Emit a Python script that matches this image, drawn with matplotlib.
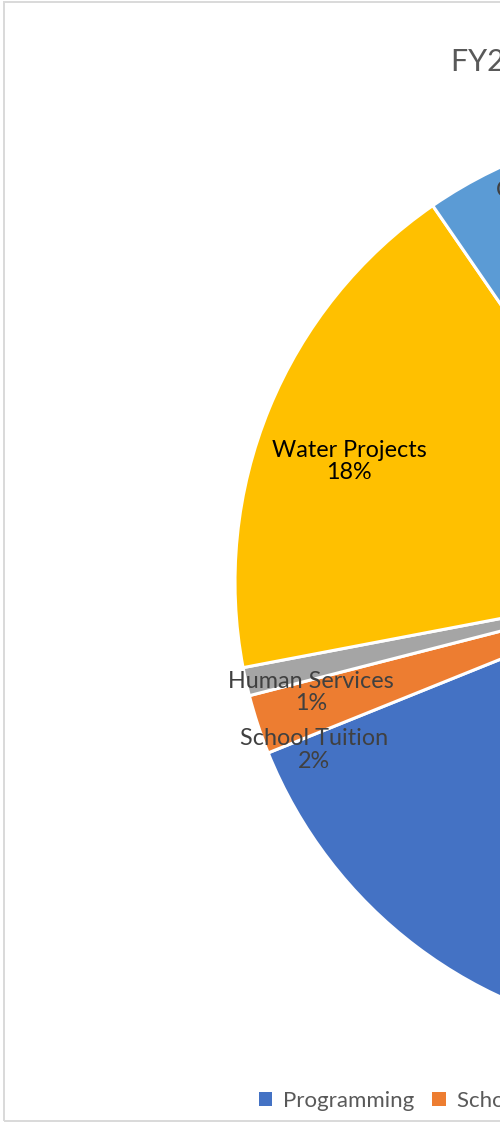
import matplotlib
matplotlib.use("Agg")
import matplotlib.pyplot as plt
from matplotlib.patches import Patch, Rectangle
import numpy as np

plt.rcParams['font.family'] = ['Lato', 'DejaVu Sans']

# ---- data ----
title = "FY2019 Expenditures by Categories"
categories = ["Programming", "School Tuition", "Human Services", "Water Projects", "Operations"]
values = [68.9, 2.1, 1.0, 18.4, 9.6]
pct_labels = ["69%", "2%", "1%", "18%", "10%"]

# ---- style ----
colors = ["#4472C4", "#ED7D31", "#A5A5A5", "#FFC000", "#5B9BD5"]
label_colors = ["#404040", "#404040", "#404040", "#000000", "#404040"]
label_radius = [0.55, 0.905, 0.868, 0.795, 0.887]
label_angle_offset = [0.0, 5.8, 3.6, 3.0, 2.8]

W, H = 500, 1122
fig = plt.figure(figsize=(W / 100, H / 100), dpi=100)

cx, cy, r = 692, 582, 457
ax = fig.add_axes([(cx - r) / W, (H - cy - r) / H, 2 * r / W, 2 * r / H])
wedges, _ = ax.pie(values, colors=colors, startangle=90, counterclock=False,
                   radius=1.0,
                   wedgeprops=dict(edgecolor="white", linewidth=2.2))
ax.set_xlim(-1, 1)
ax.set_ylim(-1, 1)
ax.set_aspect('equal')
ax.axis('off')

for i, w in enumerate(wedges):
    mid = np.deg2rad((w.theta1 + w.theta2) / 2 + label_angle_offset[i])
    x = label_radius[i] * np.cos(mid)
    y = label_radius[i] * np.sin(mid)
    ax.text(x, y, f"{categories[i]}\n{pct_labels[i]}", ha='center', va='center',
            fontsize=16.8, color=label_colors[i], linespacing=1.08)

fig.text(cx / W, 1 - 62 / H, title, ha='center', va='center',
         fontsize=22, color='#595959')

handles = [Patch(facecolor=c, edgecolor='none') for c in colors]
leg = fig.legend(handles, categories, ncol=5, loc='center left',
                 bbox_to_anchor=(239 / W, 1 - 1101 / H), frameon=False,
                 fontsize=16, handlelength=0.6, handleheight=0.6,
                 handletextpad=0.5, columnspacing=0.8)
for t in leg.get_texts():
    t.set_color('#595959')

fig.patches.append(Rectangle((3.5 / W, 1 - 1120.5 / H), 2.0, (1120.5 - 1.5) / H,
                             transform=fig.transFigure, fill=False,
                             edgecolor='#D9D9D9', linewidth=1.4))

fig.savefig("out.png", dpi=100, facecolor='white')
